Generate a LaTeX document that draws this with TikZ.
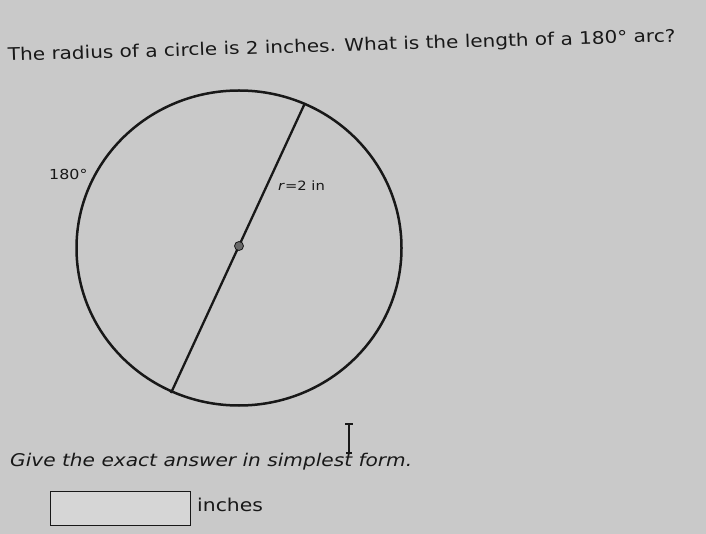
\documentclass[tikz,border=0pt]{standalone}
\usepackage{fontspec}
\setmainfont{DejaVu Sans}
\begin{document}
\begin{tikzpicture}[x=1pt,y=-1pt,
  txt/.style={inner sep=0pt,anchor=base west,text=ink,xscale=1.15},
  lbl/.style={inner sep=0pt,text=ink,anchor=west,xscale=1.15},
  shape line/.style={draw=ink,line width=2.5pt}]
\definecolor{bg}{RGB}{201,201,201}
\definecolor{ink}{RGB}{24,24,24}
\definecolor{boxfill}{RGB}{214,214,214}
\fill[bg] (0,0) rectangle (706,534);
\useasboundingbox (0,0) rectangle (706,534);
% question
\node[txt,rotate=1.9,font=\fontsize{17.4}{20}\selectfont] (q) at (8,61)
  {The radius of a circle is 2 inches. What is the length of a 180° arc?};
% circle
\coordinate (c) at (239,248);
\draw[shape line] (c) ellipse [x radius=162.5, y radius=157.5];
\coordinate (top) at (305,103);
\coordinate (bot) at (171,393);
\draw[shape line, line width=2.3pt] (bot) -- (top);
\node[circle,fill=ink!65,draw=ink,line width=0.8pt,minimum size=9pt,inner sep=0pt] (dot) at (239,246) {};
\node[lbl,font=\fontsize{13.8}{16}\selectfont] (deg) at (49,174) {180°};
\node[lbl,font=\fontsize{12.8}{15}\selectfont] (rad) at (278,186) {\textit{r}=2 in};
% instruction
\node[txt,font=\itshape\fontsize{17.5}{20}\selectfont] (give) at (10,466)
  {Give the exact answer in simplest form.};
% cursor I-beam
\draw[ink,line width=1.2pt] (349,424) -- (349,453) (345,424) -- (353,424) (346,453) -- (352,453);
% answer box
\node[draw=ink,fill=boxfill,line width=1.2pt,minimum width=140pt,minimum height=34pt,inner sep=0pt,anchor=north west] (box) at (50,491) {};
\node[txt,anchor=west,font=\fontsize{17.7}{20}\selectfont] (unit) at (197,505) {inches};
\end{tikzpicture}
\end{document}
